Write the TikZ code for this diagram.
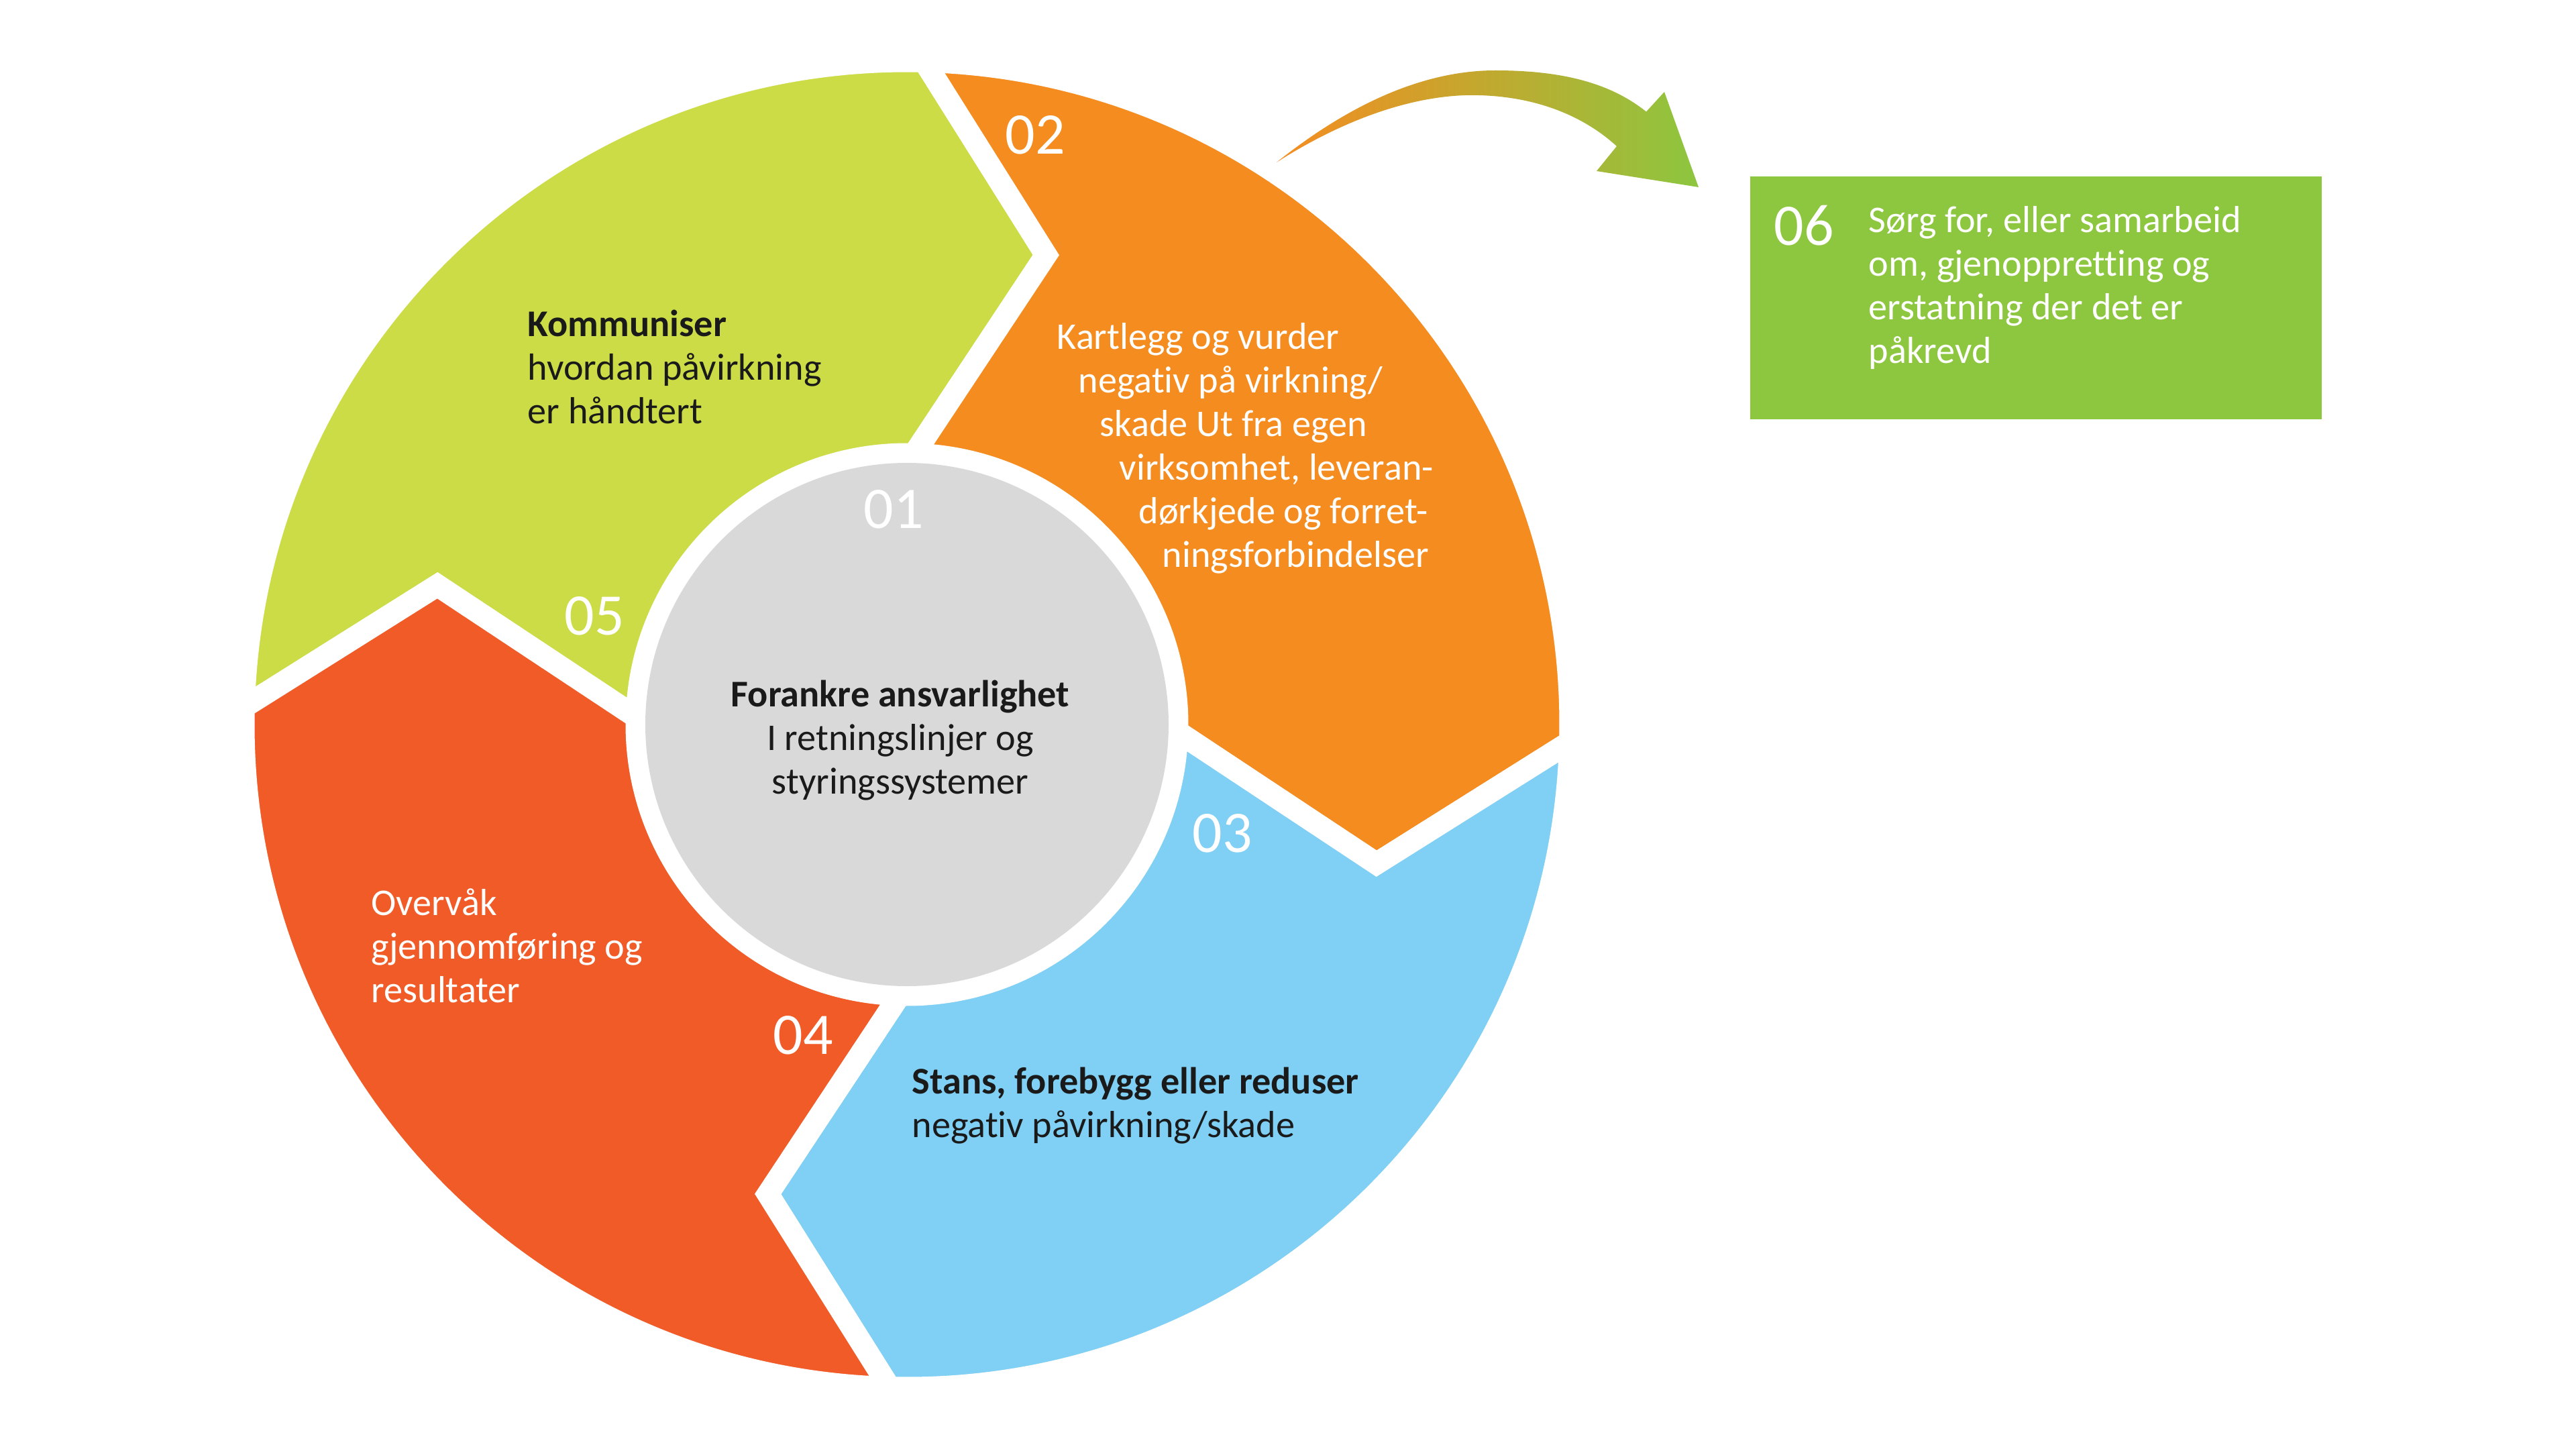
\documentclass[tikz,border=0pt]{standalone}
\usepackage{fontspec}
\setmainfont{Carlito}[Ligatures=NoCommon]
\usepackage{tikz}
\usetikzlibrary{positioning}
\definecolor{limeseg}{HTML}{CCDC46}
\definecolor{orangeseg}{HTML}{F58C20}
\definecolor{blueseg}{HTML}{80CFF4}
\definecolor{redseg}{HTML}{F05B28}
\definecolor{coregray}{HTML}{D9D9D9}
\definecolor{boxgreen}{HTML}{8DC63F}
\definecolor{inkdark}{HTML}{1A1A1A}

\begin{document}
\begin{tikzpicture}[
 seg/.style={draw=white,line width=3.3mm,line join=miter},
 num/.style={text=white,font=\fontsize{25}{30}\selectfont,inner sep=0pt},
 body/.style={font=\fontsize{16}{18.5}\selectfont,align=left,inner sep=0pt,anchor=north west}]
\useasboundingbox (-13.52,-10.73) rectangle (24.88,10.80);
% ring of four chevron segments, all pointing clockwise
\path[seg,fill=limeseg] (178.5:9.89) arc[start angle=178.5,end angle=88.5,radius=9.89]
  -- (73.5:7.3) -- (88.5:4.03) arc[start angle=88.5,end angle=178.5,radius=4.03] -- (163.5:7.3) -- cycle;
\path[seg,fill=orangeseg] (88.5:9.89) arc[start angle=88.5,end angle=-1.5,radius=9.89]
  -- (-16.5:7.3) -- (-1.5:4.03) arc[start angle=-1.5,end angle=88.5,radius=4.03] -- (73.5:7.3) -- cycle;
\path[seg,fill=blueseg] (-1.5:9.89) arc[start angle=-1.5,end angle=-91.5,radius=9.89]
  -- (-106.5:7.3) -- (-91.5:4.03) arc[start angle=-91.5,end angle=-1.5,radius=4.03] -- (-16.5:7.3) -- cycle;
\path[seg,fill=redseg] (-91.5:9.89) arc[start angle=-91.5,end angle=-181.5,radius=9.89]
  -- (-196.5:7.3) -- (-181.5:4.03) arc[start angle=-181.5,end angle=-91.5,radius=4.03] -- (-106.5:7.3) -- cycle;

\node[circle,fill=coregray,minimum size=7.8cm,inner sep=0pt] (core) at (0,0) {};
\node[num] (n1) at (-0.20,3.21) {01};
\node[num] (n2) at (1.91,8.79) {02};
\node[num] (n3) at (4.70,-1.62) {03};
\node[num] (n4) at (-1.55,-4.63) {04};
\node[num] (n5) at (-4.66,1.62) {05};

\node[body,anchor=north,align=center,text=inkdark] (anchor) at (-0.10,0.67)
  {\textbf{Forankre ansvarlighet}\\I retningslinjer og\\styringssystemer};
\node[body,text=inkdark] (talk) at (-5.66,6.19)
  {\textbf{Kommuniser}\\hvordan påvirkning\\er håndtert};
\node[body,text=white] (map) at (2.23,5.99)
  {Kartlegg og vurder\\
   \hspace*{0.32cm}negativ på virkning/\\
   \hspace*{0.64cm}skade Ut fra egen\\
   \hspace*{0.93cm}virksomhet, leveran-\\
   \hspace*{1.22cm}dørkjede og forret-\\
   \hspace*{1.57cm}ningsforbindelser};
\node[body,text=inkdark] (stop) at (0.07,-5.10)
  {\textbf{Stans, forebygg eller reduser}\\negativ påvirkning/skade};
\node[body,text=white] (watch) at (-7.99,-2.44)
  {Overvåk\\gjennomføring og\\resultater};

% step 06 beside the ring
\node[fill=boxgreen,minimum width=8.52cm,minimum height=3.625cm,anchor=north west,inner sep=0pt] (box) at (12.56,8.18) {};
\node[num,anchor=north west] (n6) at ([shift={(0.36,-0.43)}]box.north west) {06};
\node[body,text=white] (repair) at ([shift={(1.77,-0.45)}]box.north west)
  {Sørg for, eller samarbeid\\om, gjenoppretting og\\erstatning der det er\\påkrevd};

% curved arrow from the ring to step 06
\shade[left color=orangeseg,right color=boxgreen] (5.51,8.38)
  .. controls (6.6,9.25) and (7.7,9.75) .. (8.77,9.75)
  .. controls (9.8,9.75) and (10.5,9.55) .. (11.02,9.135)
  -- (11.29,9.43) -- (11.80,8.01) -- (10.28,8.25) -- (10.58,8.62)
  .. controls (10.0,9.15) and (9.2,9.4) .. (8.325,9.38)
  .. controls (7.4,9.35) and (6.4,8.95) .. (5.51,8.38) -- cycle;
\end{tikzpicture}
\end{document}
